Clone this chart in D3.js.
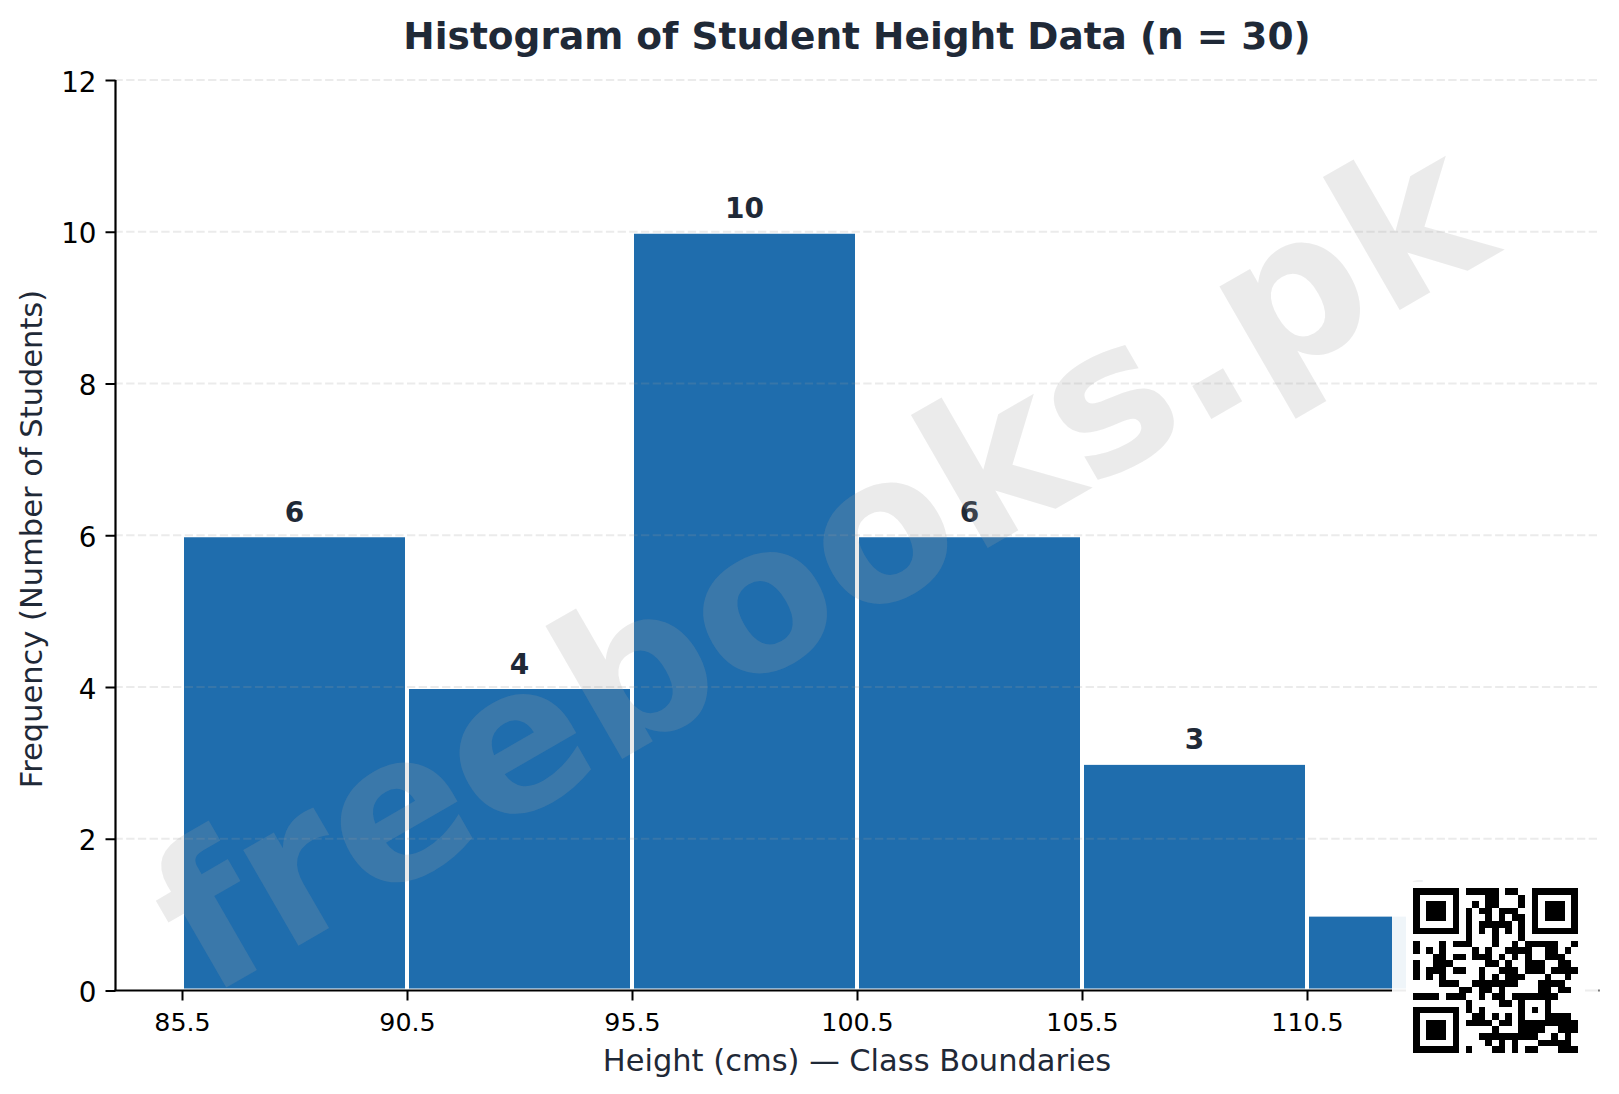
<!DOCTYPE html>
<html>
<head>
<meta charset="utf-8">
<script src="https://cdn.jsdelivr.net/npm/d3@7"></script>
<style>
  html, body { margin: 0; padding: 0; background: #fff; }
  svg { display: block; }
  text { font-family: "DejaVu Sans", sans-serif; }
</style>
</head>
<body>
<svg id="chart" width="1619" height="1094"></svg>
<script>
// class boundaries and frequencies
const boundaries = [85.5, 90.5, 95.5, 100.5, 105.5, 110.5, 115.5];
const frequencies = [6, 4, 10, 6, 3, 1];
const xTicks = [85.5, 90.5, 95.5, 100.5, 105.5, 110.5, 115.5];
const yTicks = [0, 2, 4, 6, 8, 10, 12];

const titleText = "Histogram of Student Height Data (n = 30)";
const xLabel = "Height (cms) — Class Boundaries";
const yLabel = "Frequency (Number of Students)";
const watermark = "freebooks.pk";

// qr code in the bottom corner, one string per row
const qrRows = [
  "1111111011111011001111111",
  "1000001000011000101000001",
  "1011101001011000101011101",
  "1011101010110111001011101",
  "1011101010010101101011101",
  "1000001010111110101000001",
  "1111111010101010101111111",
  "0000000010001000100000000",
  "1000101110001001011111001",
  "1010100001010011110011010",
  "0001101101110101010011100",
  "1001110000011010011100110",
  "1011101100100111011101111",
  "1010100000101011100010010",
  "0000111001111111000111100",
  "0000000110110100000110110",
  "1111011100101101111111000",
  "0000000010000110100010000",
  "1111111010100000101010000",
  "1000001001101010100011110",
  "1011101011110110111111111",
  "1011101000001000111100111",
  "1011101000111111111001010",
  "1000001000010101000111110",
  "1111111010001101011000111"
];

const svg = d3.select("#chart");
const ink = "#1f2937";

const x = d3.scaleLinear().domain([84, 117]).range([114.5, 1599.5]);
const y = d3.scaleLinear().domain([0, 12]).range([990.5, 80]);

/** BARS */
const bins = frequencies.map((f, i) => ({ x0: boundaries[i], x1: boundaries[i + 1], f: f }));

svg.append("g")
  .selectAll("rect")
  .data(bins)
  .join("rect")
  .attr("x", d => x(d.x0))
  .attr("width", d => x(d.x1) - x(d.x0))
  .attr("y", d => y(d.f))
  .attr("height", d => y(0) - y(d.f))
  .attr("fill", "#1f6dad")
  .attr("stroke", "#ffffff")
  .attr("stroke-width", 4);

/** GRID */
svg.append("g")
  .selectAll("line")
  .data(yTicks.filter(d => d > 0))
  .join("line")
  .attr("x1", x(84))
  .attr("x2", x(117))
  .attr("y1", d => y(d))
  .attr("y2", d => y(d))
  .attr("stroke", "#999999")
  .attr("stroke-opacity", 0.2)
  .attr("stroke-width", 2)
  .attr("stroke-dasharray", "8.3 3.4");

/** BAR LABELS */
svg.append("g")
  .selectAll("text")
  .data(bins)
  .join("text")
  .attr("x", d => x((d.x0 + d.x1) / 2))
  .attr("y", d => y(d.f) - 13.4)
  .attr("text-anchor", "middle")
  .attr("font-size", 28)
  .attr("font-weight", "bold")
  .attr("fill", ink)
  .text(d => d.f);

/** AXES */
const xAxis = d3.axisBottom(x).tickValues(xTicks).tickSize(10).tickPadding(13)
  .tickFormat(d3.format(".1f"));
const yAxis = d3.axisLeft(y).tickValues(yTicks).tickSize(10).tickPadding(9);

const gx = svg.append("g").attr("transform", `translate(0,${y(0)})`).call(xAxis);
const gy = svg.append("g").attr("transform", "translate(115.5,0)").call(yAxis);

gx.selectAll("text").attr("font-size", 25.3).attr("fill", "#000");
gy.selectAll("text").attr("font-size", 27.8).attr("fill", "#000").attr("dy", "0.4em");
svg.selectAll(".domain").attr("stroke", "#000").attr("stroke-width", 2.2);
svg.selectAll(".tick line").attr("stroke", "#000").attr("stroke-width", 2);
gx.select(".domain").attr("d", `M${x(84)},0H${x(117)}`);
gy.select(".domain").attr("d", `M0,${y(0)}V${y(12)}`);

/** TITLES */
svg.append("text")
  .attr("x", 857)
  .attr("y", 49)
  .attr("text-anchor", "middle")
  .attr("font-size", 37.5)
  .attr("font-weight", "bold")
  .attr("fill", ink)
  .text(titleText);

svg.append("text")
  .attr("x", 857)
  .attr("y", 1071)
  .attr("text-anchor", "middle")
  .attr("font-size", 30.5)
  .attr("fill", ink)
  .text(xLabel);

svg.append("text")
  .attr("transform", "translate(42,539) rotate(-90)")
  .attr("text-anchor", "middle")
  .attr("font-size", 30.5)
  .attr("fill", ink)
  .text(yLabel);

/** WATERMARK */
svg.append("text")
  .attr("transform", "translate(827,577) rotate(-30)")
  .attr("text-anchor", "middle")
  .attr("dominant-baseline", "middle")
  .attr("font-size", 202)
  .attr("font-weight", "bold")
  .attr("fill", "#a0a0a0")
  .attr("fill-opacity", 0.21)
  .text(watermark);

/** QR */
svg.append("rect")
  .attr("x", 1392).attr("y", 875).attr("width", 206.5).attr("height", 195)
  .attr("fill", "#fff").attr("fill-opacity", 0.93);
svg.append("rect")
  .attr("x", 1406).attr("y", 882).attr("width", 179).attr("height", 180)
  .attr("fill", "#fff");

const qrX = d3.scaleBand().domain(d3.range(25)).range([1413, 1577.7]);
const qrY = d3.scaleBand().domain(d3.range(25)).range([888, 1052.7]);

const qrCells = qrRows.flatMap((row, r) =>
  row.split("").map((v, c) => ({ r: r, c: c, v: v })).filter(d => d.v === "1"));

svg.append("g")
  .attr("shape-rendering", "crispEdges")
  .selectAll("rect")
  .data(qrCells)
  .join("rect")
  .attr("x", d => qrX(d.c))
  .attr("y", d => qrY(d.r))
  .attr("width", qrX.bandwidth())
  .attr("height", qrY.bandwidth())
  .attr("fill", "#000");
</script>
</body>
</html>
